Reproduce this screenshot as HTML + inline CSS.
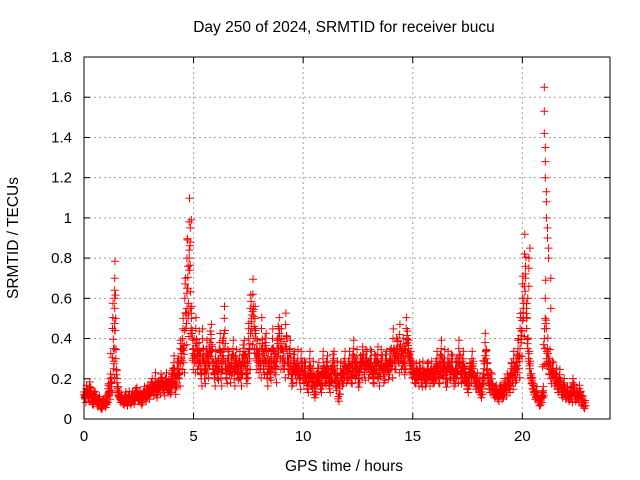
<!DOCTYPE html>
<html><head><meta charset="utf-8"><style>
body{margin:0;background:#fff;}
svg{display:block;font-family:"Liberation Sans",sans-serif;}
</style></head><body>
<svg id="chart" width="640" height="480">
<rect width="640" height="480" fill="#fff"/>
<g id="grid"></g>
<g id="ticks"></g>
<g id="marks"></g>
<rect x="84" y="57" width="526" height="362" fill="none" stroke="#000" stroke-width="1"/>
<text x="344" y="32" font-size="15.5" text-anchor="middle">Day 250 of 2024, SRMTID for receiver bucu</text>
<text x="344" y="471" font-size="15.5" text-anchor="middle">GPS time / hours</text>
<text x="18" y="238" font-size="15.5" text-anchor="middle" transform="rotate(-90 18 238)">SRMTID / TECUs</text>
</svg>
<script>
const xTicks=[0,5,10,15,20];
const yTicks=[0,0.2,0.4,0.6,0.8,1,1.2,1.4,1.6,1.8];
const yTickLabels=["0","0.2","0.4","0.6","0.8","1","1.2","1.4","1.6","1.8"];
const seriesA=[0.12,0.15,0.1,0.14,0.08,0.12,0.07,0.1,0.06,0.09,
0.08,0.15,0.2,0.45,0.7,0.18,0.12,0.1,0.08,0.12,
0.1,0.08,0.12,0.1,0.14,0.1,0.08,0.12,0.1,0.15,
0.14,0.18,0.15,0.12,0.17,0.2,0.16,0.18,0.15,0.14,
0.2,0.28,0.18,0.25,0.35,0.4,0.6,0.8,0.98,0.5,
0.35,0.45,0.3,0.25,0.4,0.2,0.35,0.3,0.42,0.25,
0.3,0.22,0.38,0.28,0.5,0.2,0.3,0.25,0.35,0.28,
0.22,0.3,0.25,0.35,0.2,0.4,0.55,0.62,0.5,0.35,
0.3,0.45,0.25,0.38,0.3,0.22,0.4,0.3,0.35,0.45,
0.4,0.3,0.47,0.25,0.35,0.2,0.3,0.25,0.22,0.3,
0.2,0.25,0.15,0.3,0.18,0.12,0.2,0.25,0.15,0.3,
0.2,0.28,0.15,0.22,0.3,0.18,0.1,0.25,0.2,0.3,
0.22,0.3,0.2,0.35,0.25,0.18,0.28,0.32,0.22,0.3,
0.25,0.3,0.2,0.28,0.32,0.24,0.28,0.22,0.3,0.25,
0.3,0.4,0.28,0.35,0.42,0.3,0.25,0.45,0.35,0.3,
0.25,0.2,0.22,0.25,0.18,0.22,0.2,0.25,0.22,0.2,
0.22,0.3,0.2,0.35,0.25,0.18,0.3,0.22,0.28,0.2,
0.25,0.35,0.2,0.3,0.22,0.15,0.25,0.3,0.2,0.18,
0.15,0.12,0.2,0.38,0.25,0.15,0.2,0.12,0.15,0.1,
0.15,0.12,0.18,0.2,0.15,0.25,0.3,0.22,0.35,0.45,
0.6,0.82,0.45,0.3,0.2,0.15,0.12,0.1,0.08,0.12,
0.4,0.3,0.25,0.2,0.25,0.2,0.15,0.22,0.12,0.18,
0.12,0.1,0.14,0.18,0.1,0.12,0.15,0.08,0.06];
const seriesB=[0.1,0.13,0.16,0.09,0.12,0.1,0.09,0.06,0.08,0.07,
0.1,0.12,0.16,0.25,0.3,0.14,0.1,0.09,0.1,0.08,
0.12,0.1,0.09,0.13,0.11,0.12,0.1,0.14,0.13,0.12,
0.16,0.14,0.2,0.16,0.15,0.18,0.14,0.2,0.17,0.16,
0.22,0.15,0.25,0.2,0.3,0.28,0.45,0.5,0.55,0.3,
0.28,0.3,0.38,0.2,0.3,0.28,0.25,0.38,0.3,0.2,
0.25,0.3,0.2,0.35,0.25,0.3,0.22,0.28,0.2,0.3,
0.25,0.2,0.32,0.28,0.25,0.3,0.45,0.4,0.3,0.28,
0.25,0.3,0.35,0.2,0.25,0.3,0.28,0.22,0.4,0.3,
0.3,0.25,0.35,0.3,0.2,0.28,0.22,0.3,0.18,0.25,
0.25,0.18,0.22,0.2,0.25,0.15,0.22,0.18,0.2,0.22,
0.25,0.2,0.22,0.28,0.2,0.25,0.15,0.2,0.25,0.22,
0.25,0.22,0.28,0.25,0.3,0.22,0.25,0.28,0.3,0.25,
0.3,0.22,0.28,0.25,0.2,0.3,0.22,0.28,0.24,0.3,
0.25,0.3,0.35,0.28,0.3,0.35,0.3,0.38,0.28,0.25,
0.22,0.24,0.2,0.22,0.25,0.2,0.24,0.2,0.25,0.22,
0.25,0.22,0.28,0.25,0.3,0.22,0.25,0.28,0.2,0.25,
0.22,0.28,0.25,0.22,0.18,0.2,0.22,0.25,0.18,0.2,
0.18,0.15,0.25,0.3,0.18,0.2,0.15,0.14,0.12,0.14,
0.12,0.15,0.14,0.18,0.2,0.18,0.22,0.28,0.25,0.38,
0.5,0.7,0.35,0.25,0.18,0.12,0.14,0.08,0.1,0.14,
0.6,0.35,0.3,0.25,0.2,0.22,0.18,0.15,0.15,0.12,
0.14,0.12,0.1,0.15,0.12,0.1,0.12,0.1,0.08];
const spikeTimes=[1.4,1.4,1.4,1.4,1.4,4.7,4.7,4.75,4.8,4.8,4.85,4.85,4.9,20.2,20.2,20.25,20.3,20.3,20.3,20.35,21.0,21.0,21.0,21.05,21.05,21.05,21.1,21.1,21.1,21.15,21.15,21.2,21.2,21.3,21.3];
const spikeVals=[0.35,0.44,0.55,0.6,0.64,0.55,0.65,0.76,0.8,0.84,0.88,0.95,0.99,0.5,0.55,0.6,0.66,0.75,0.8,0.85,1.65,1.53,1.42,1.35,1.28,1.2,1.13,1.08,1.0,0.95,0.9,0.85,0.8,0.7,0.55];
const step=0.1, x0=84, x1=610, y0=419, y1=57, xMax=24, yMax=1.8;
const xs=v=>x0+(v/xMax)*(x1-x0);
const ys=v=>y0-(v/yMax)*(y0-y1);
const NS='http://www.w3.org/2000/svg';
const grid=document.getElementById('grid'),ticks=document.getElementById('ticks'),marks=document.getElementById('marks');
function line(p,a,b,c,d,st,dash){const l=document.createElementNS(NS,'line');l.setAttribute('x1',a);l.setAttribute('y1',b);l.setAttribute('x2',c);l.setAttribute('y2',d);l.setAttribute('stroke',st);if(dash)l.setAttribute('stroke-dasharray',dash);p.appendChild(l);return l;}
xTicks.forEach(t=>{const x=xs(t);
 const g=line(grid,x,y1,x,y0,'#a0a0a0','2,3');
 
 
 line(ticks,x,y0,x,y0-6,'#000');line(ticks,x,y1,x,y1+6,'#000');
 const tx=document.createElementNS(NS,'text');tx.setAttribute('x',x);tx.setAttribute('y',y0+22);tx.setAttribute('font-size','15');tx.setAttribute('text-anchor','middle');tx.textContent=t;
 
 
 ticks.appendChild(tx);});
yTicks.forEach((t,i)=>{const y=ys(t);
 const g=line(grid,x0,y,x1,y,'#a0a0a0','2,3');
 
 
 line(ticks,x0,y,x0+6,y,'#000');line(ticks,x1,y,x1-6,y,'#000');
 const tx=document.createElementNS(NS,'text');tx.setAttribute('x',x0-12);tx.setAttribute('y',y+5);tx.setAttribute('font-size','15');tx.setAttribute('text-anchor','end');tx.textContent=yTickLabels[i];
 
 
 ticks.appendChild(tx);});
let d='';
function plus(t,v){const x=xs(t),y=ys(v);d+=`M${(x-4).toFixed(1)} ${y.toFixed(1)}h8M${x.toFixed(1)} ${(y-4).toFixed(1)}v8`;}
seriesA.forEach((v,i)=>{plus(i*step,v);plus(i*step+0.0125,v*1.12);plus(i*step+0.035,v*0.88);});
seriesB.forEach((v,i)=>{plus(i*step+0.05,v);plus(i*step+0.0625,v*1.15);plus(i*step+0.085,v*0.82);});
seriesA.forEach((v,i)=>{if(i<seriesA.length-1){plus(i*step+0.025,(v+seriesA[i+1])/2);plus(i*step+0.045,(v+seriesB[i])/2);}});
seriesB.forEach((v,i)=>{if(i<seriesB.length-1){plus(i*step+0.075,(v+seriesB[i+1])/2);plus(i*step+0.095,(v+seriesA[i+1])/2);}});
spikeTimes.forEach((t,i)=>plus(t,spikeVals[i]));
const p=document.createElementNS(NS,'path');p.setAttribute('d',d);p.setAttribute('stroke','#ff0000');p.setAttribute('stroke-width','1');p.setAttribute('fill','none');


marks.appendChild(p);
</script>
</body></html>
